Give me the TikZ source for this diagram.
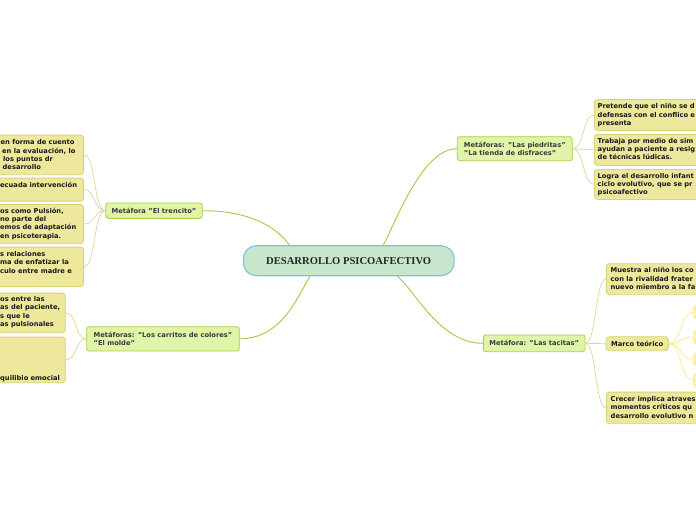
\documentclass[tikz,border=0pt]{standalone}
\usepackage{fontspec}
\setmainfont{DejaVu Sans}
\newfontfamily\cenfont{Liberation Serif}
\usetikzlibrary{calc}
\definecolor{cfill}{HTML}{C7E6CB}
\definecolor{cborder}{HTML}{78C4E6}
\definecolor{lfill}{HTML}{E0F5A8}
\definecolor{lborder}{HTML}{A8CF4C}
\definecolor{yfill}{HTML}{EDE89C}
\definecolor{yborder}{HTML}{D8D27A}
\definecolor{sfill}{HTML}{FFF4A8}
\definecolor{sborder}{HTML}{FBE585}
\definecolor{gline}{HTML}{A6C93E}
\definecolor{kline}{HTML}{D9D59E}
\definecolor{sline}{HTML}{FDE98F}
\definecolor{ltext}{HTML}{3A3A3A}
\newcommand\mmfont{\bfseries\fontsize{6.7}{8.35}\selectfont}
\newcommand\strt{\rule{0pt}{5.6pt}}
\newcommand\qq{\char34\relax}
\tikzset{
  central/.style={draw=cborder, fill=cfill, line width=1.1pt, rounded corners=13pt,
    minimum width=210.7pt, minimum height=30pt, inner sep=0pt,
    font=\cenfont\bfseries\fontsize{10.6}{12}\selectfont, text=black!85},
  lone/.style={draw=lborder, fill=lfill, line width=0.8pt, rounded corners=2.5pt,
    inner sep=0pt, font=\mmfont, text=ltext, align=left},
  ybox/.style={draw=yborder, fill=yfill, line width=0.8pt, rounded corners=3pt,
    inner sep=0pt},
  sbox/.style={draw=sborder, fill=sfill, line width=0.8pt, rounded corners=3pt,
    inner sep=0pt, minimum width=20pt},
  ytxt/.style={inner sep=0pt, font=\mmfont, text=black!90, align=left},
  gcon/.style={draw=gline, line width=0.9pt},
  kcon/.style={draw=kline, line width=0.7pt},
  scon/.style={draw=sline, line width=0.7pt},
}
\begin{document}
\begin{tikzpicture}[x=1pt,y=-1pt]
\useasboundingbox (0,0) rectangle (696,520);
\clip (0,0) rectangle (696,520);
\fill[white] (0,0) rectangle (696,520);

% central
\node[central] (C) at (348.7,260.7) {DESARROLLO PSICOAFECTIVO};

% level one
\node[lone, minimum width=96.6pt, minimum height=15.3pt] (tren) at (154,210.7) {Metáfora \qq El trencito\qq};
\node[lone, minimum width=152.6pt, minimum height=24.3pt] (carr) at (163,338.8) {Metáforas: \qq Los carritos de colores\qq\\\qq El molde\qq};
\node[lone, minimum width=115pt, minimum height=24pt] (pied) at (514.8,148.7) {Metáforas: \qq Las piedritas\qq\\\qq La tienda de disfraces\qq};
\node[lone, minimum width=101.7pt, minimum height=16.7pt] (taci) at (534.2,343.3) {Metáfora: \qq Las tacitas\qq};

% central connectors
\draw[gcon] (tren.east) .. controls (248,210.7) and (276,226) .. ($(C.north west)!0.22!(C.north east)$);
\draw[gcon] (carr.east) .. controls (282,338.8) and (298,296) .. ($(C.south west)!0.317!(C.south east)$);
\draw[gcon] (pied.west) .. controls (422,148.7) and (396,222) .. ($(C.north west)!0.663!(C.north east)$);
\draw[gcon] (taci.west) .. controls (440,343.3) and (416,292) .. ($(C.south west)!0.73!(C.south east)$);

% left boxes (El trencito)
\node[ybox, anchor=north east, minimum width=100pt, minimum height=39.6pt] (A) at (84,134.7) {};
\node[ybox, anchor=north east, minimum width=100pt, minimum height=23pt] (B) at (84,177.7) {};
\node[ybox, anchor=north east, minimum width=100pt, minimum height=39.3pt] (Cc) at (84,204) {};
\node[ybox, anchor=north east, minimum width=100pt, minimum height=39.3pt] (D) at (84,246.7) {};
\node[ytxt, anchor=north west] (At) at (0.5,138.9) {\strt en forma de cuento\\\hspace*{1.5pt}en la evaluación, lo\\\hspace*{2.5pt}los puntos dr\\\hspace*{2pt}desarrollo};
\node[ytxt, anchor=north west] (Bt) at (0,181.4) {\strt ecuada intervención};
\node[ytxt, anchor=north west] (Ct) at (0,207.4) {\strt os como Pulsión,\\no parte del\\emos de adaptación\\en psicoterapia.};
\node[ytxt, anchor=north west] (Dt) at (0,250.7) {\strt s relaciones\\ma de enfatizar la\\culo entre madre e};

% left boxes (carritos)
\node[ybox, anchor=north east, minimum width=80pt, minimum height=39.6pt] (E) at (65.7,292.7) {};
\node[ybox, anchor=north east, minimum width=80pt, minimum height=45.6pt] (F) at (65.7,336.7) {};
\node[ytxt, anchor=north west] (Et) at (0,295.7) {\strt os entre las\\as del paciente,\\s que le\\as pulsionales};
\node[ytxt, anchor=north west] (Ft) at (0,374.7) {\strt quilibio emocial};

% right boxes (piedritas)
\node[ybox, anchor=north west, minimum width=120pt, minimum height=31pt] (P) at (594,99) {};
\node[ybox, anchor=north west, minimum width=120pt, minimum height=31pt] (T) at (594,134) {};
\node[ybox, anchor=north west, minimum width=120pt, minimum height=30pt] (L) at (594,169) {};
\node[ytxt, anchor=north west] (Pt) at (597.5,103.1) {\strt Pretende que el niño se d\\defensas con el conflico e\\presenta};
\node[ytxt, anchor=north west] (Tt) at (597.5,137.4) {\strt Trabaja por medio de sim\\ayudan a paciente a resig\\de técnicas lúdicas.};
\node[ytxt, anchor=north west] (Lt) at (597.5,172.4) {\strt Logra el desarrollo infant\\ciclo evolutivo, que se pr\\psicoafectivo};

% right boxes (tacitas)
\node[ybox, anchor=north west, minimum width=110pt, minimum height=31pt] (M) at (606,263.3) {};
\node[ybox, minimum width=62.3pt, minimum height=14pt, font=\mmfont, text=black!90] (Mt) at (637.2,343.7) {Marco teórico};
\node[ybox, anchor=north west, minimum width=110pt, minimum height=31.6pt] (Cr) at (606,391.7) {};
\node[ytxt, anchor=north west] (Mtx) at (610.5,267.1) {\strt Muestra al niño los co\\con la rivalidad frater\\nuevo miembro a la fa};
\node[ytxt, anchor=north west] (Crt) at (610.5,395.7) {\strt Crecer implica atraves\\momentos críticos qu\\desarrollo evolutivo n};

% marco teorico sub boxes
\node[sbox, anchor=north west, minimum height=13.3pt] (S1) at (693.3,305) {};
\node[sbox, anchor=north west, minimum height=13.3pt] (S2) at (693.3,330) {};
\node[sbox, anchor=north west, minimum height=12.3pt] (S3) at (693.3,352.7) {};
\node[sbox, anchor=north west, minimum height=13.4pt] (S4) at (693.3,373.3) {};

% level two connectors
\foreach \n in {A,B,Cc,D}{
  \draw[kcon] (tren.west) .. controls ($(tren.west)+(-12,0)$) and ($(\n.east)+(12,0)$) .. (\n.east);
}
\foreach \n in {E,F}{
  \draw[kcon] (carr.west) .. controls ($(carr.west)+(-12,0)$) and ($(\n.east)+(12,0)$) .. (\n.east);
}
\foreach \n in {P,T,L}{
  \draw[kcon] (pied.east) .. controls ($(pied.east)+(11,0)$) and ($(\n.west)+(-11,0)$) .. (\n.west);
}
\foreach \n in {M,Mt,Cr}{
  \draw[kcon] (taci.east) .. controls ($(taci.east)+(11,0)$) and ($(\n.west)+(-11,0)$) .. (\n.west);
}
\foreach \n in {S1,S2,S3,S4}{
  \draw[scon] (Mt.east) .. controls ($(Mt.east)+(13,0)$) and ($(\n.west)+(-13,0)$) .. (\n.west);
}
\end{tikzpicture}
\end{document}
